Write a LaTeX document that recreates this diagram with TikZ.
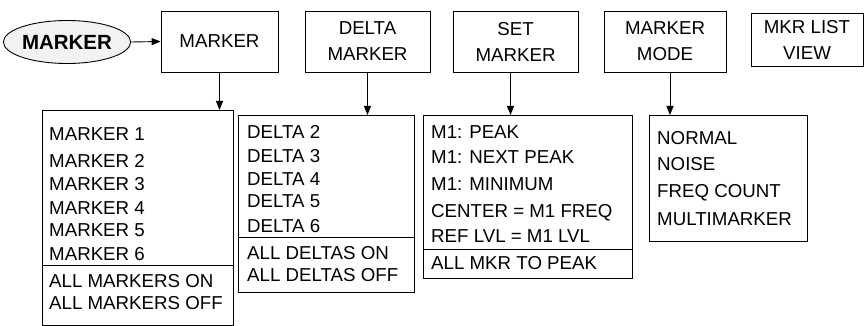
\documentclass[tikz,border=0pt]{standalone}
\usepackage{fontspec}
\setmainfont{Liberation Sans}
\usetikzlibrary{arrows.meta,shapes.geometric}
\begin{document}
\begin{tikzpicture}[x=1pt,y=-1pt,
  every node/.style={font=\fontsize{18.7}{26}\selectfont},
  topbox/.style={draw, line width=0.8pt, rectangle, align=center, inner sep=0pt},
  listbox/.style={draw, line width=0.8pt, rectangle, anchor=north west, inner sep=0pt},
  item/.style={anchor=base west, inner sep=0pt},
  arr/.style={line width=0.9pt, -{Triangle[length=9pt,width=7pt]}}]
\useasboundingbox (0,0) rectangle (867,326);
% ellipse
\node[ellipse, draw, line width=0.9pt, fill=gray!10, minimum width=110pt, minimum height=43pt, inner sep=0pt,
  font=\fontsize{20.5}{22}\selectfont\bfseries] (ell) at (67,42) {MARKER};
% top boxes
\node[topbox, minimum width=117pt, minimum height=61pt] (mk) at (219.5,41.5) {MARKER};
\node[topbox, minimum width=125pt, minimum height=61pt] (dm) at (367.5,41.5) {DELTA\\MARKER};
\node[topbox, minimum width=125pt, minimum height=61pt] (sm) at (515.5,41.5) {SET\\MARKER};
\node[topbox, minimum width=122pt, minimum height=61pt] (mm) at (665,41.5) {MARKER\\MODE};
\node[topbox, minimum width=112pt, minimum height=53pt] (lv) at (807,39.5) {MKR LIST\\VIEW};
% list boxes
\node[listbox, minimum width=191pt, minimum height=215pt] (l1) at (42,110) {};
\node[listbox, minimum width=176pt, minimum height=177pt] (l2) at (238,115) {};
\node[listbox, minimum width=209pt, minimum height=163pt] (l3) at (423,115) {};
\node[listbox, minimum width=158pt, minimum height=126pt] (l4) at (649,115) {};
% dividers
\coordinate (d1) at (42,265); \draw[line width=0.8pt] (d1) -- (d1 -| l1.east);
\coordinate (d2) at (238,237); \draw[line width=0.8pt] (d2) -- (d2 -| l2.east);
\coordinate (d3) at (423,249); \draw[line width=0.8pt] (d3) -- (d3 -| l3.east);
% items list 1
\node[item] (a1) at (49,140) {MARKER 1};
\node[item] (a2) at (49,167) {MARKER 2};
\node[item] (a3) at (49,190) {MARKER 3};
\node[item] (a4) at (49,214) {MARKER 4};
\node[item] (a5) at (49,236) {MARKER 5};
\node[item] (a6) at (49,260) {MARKER 6};
\node[item] (a7) at (49,287) {ALL MARKERS ON};
\node[item] (a8) at (49,309) {ALL MARKERS OFF};
% items list 2
\node[item] (b1) at (247,139) {DELTA 2};
\node[item] (b2) at (247,162) {DELTA 3};
\node[item] (b3) at (247,185) {DELTA 4};
\node[item] (b4) at (247,207) {DELTA 5};
\node[item] (b5) at (247,232) {DELTA 6};
\node[item] (b6) at (247,259) {ALL DELTAS ON};
\node[item] (b7) at (247,281) {ALL DELTAS OFF};
% items list 3
\node[item] (c1) at (431,139) {M1: PEAK};
\node[item] (c2) at (431,164) {M1: NEXT PEAK};
\node[item] (c3) at (431,190) {M1: MINIMUM};
\node[item] (c4) at (431,217) {CENTER = M1 FREQ};
\node[item] (c5) at (431,242) {REF LVL = M1 LVL};
\node[item] (c6) at (431,269) {ALL MKR TO PEAK};
% items list 4
\node[item] (e1) at (657,144) {NORMAL};
\node[item] (e2) at (657,170) {NOISE};
\node[item] (e3) at (657,197) {FREQ COUNT};
\node[item] (e4) at (657,225) {MULTIMARKER};
% connectors
\draw[arr] (ell.east) -- (mk.west);
\draw[arr] (mk.south) -- (mk.south |- l1.north);
\draw[arr] (dm.south) -- (dm.south |- l2.north);
\draw[arr] ([xshift=-5pt]sm.south) -- ([xshift=-5pt]sm.south |- l3.north);
\draw[arr] ([xshift=5pt]mm.south) -- ([xshift=5pt]mm.south |- l4.north);
\end{tikzpicture}
\end{document}
